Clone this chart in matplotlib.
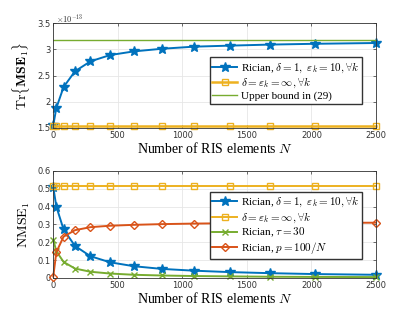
import matplotlib
matplotlib.use('Agg')
import matplotlib.pyplot as plt
from matplotlib.ticker import FuncFormatter

plt.rcParams['mathtext.fontset'] = 'cm'
plt.rcParams['font.family'] = 'DejaVu Sans'

N = [1, 25, 81, 169, 289, 441, 625, 841, 1089, 1369, 1681, 2025, 2500]

# top panel, Tr{MSE_1}
mse_rician = [1.55, 1.88, 2.28, 2.58, 2.77, 2.89, 2.96, 3.01, 3.05, 3.07, 3.09, 3.105, 3.12]
mse_los = [1.54] * 13
mse_bound = 3.18
scale = 1e-13

# bottom panel, NMSE_1
nmse_rician = [0.51, 0.40, 0.272, 0.18, 0.122, 0.088, 0.066, 0.051, 0.041, 0.033, 0.027, 0.022, 0.018]
nmse_los = [0.518] * 13
nmse_tau = [0.215, 0.15, 0.09, 0.053, 0.035, 0.025, 0.018, 0.014, 0.011, 0.009, 0.007, 0.006, 0.005]
nmse_p = [0.008, 0.145, 0.232, 0.268, 0.285, 0.293, 0.298, 0.302, 0.305, 0.307, 0.308, 0.309, 0.310]

blue = '#0072BD'
yellow = '#EDB120'
green = '#77AC30'
red = '#D95319'

serif = 'Liberation Serif'
leg_font = {'family': serif, 'size': 8}

fig = plt.figure(figsize=(4.15, 3.12), dpi=100)
ax1 = fig.add_axes([0.128, 0.590, 0.778, 0.336])
ax2 = fig.add_axes([0.128, 0.109, 0.778, 0.343])

ax1.plot(N, [v * scale for v in mse_rician], color=blue, lw=1.4, marker='*', ms=7, clip_on=False,
         label=r'Rician, $\delta=1,\ \varepsilon_k=10, \forall k$')
ax1.plot(N, [v * scale for v in mse_los], color=yellow, lw=1.8, marker='s', ms=4.5, mfc='none', clip_on=False,
         label=r'$\delta=\varepsilon_k=\infty, \forall k$')
ax1.plot([0, 2500], [mse_bound * scale] * 2, color=green, lw=1.0, label='Upper bound in (29)')
ax1.set_xlim(0, 2500)
ax1.set_ylim(1.5 * scale, 3.5 * scale)
ax1.set_yticks([v * scale for v in [1.5, 2, 2.5, 3, 3.5]])
ax1.yaxis.set_major_formatter(FuncFormatter(lambda v, p: f'{v / scale:g}'))
ax1.text(0.01, 1.01, r'$\times10^{-13}$', transform=ax1.transAxes, fontsize=6, color='#333333')
ax1.set_ylabel(r'$\mathrm{Tr}\{\mathbf{MSE}_1\}$', fontsize=10)
ax1.set_xlabel('Number of RIS elements $N$', family=serif, fontsize=10, labelpad=1)
ax1.legend(loc='center right', bbox_to_anchor=(0.975, 0.45), prop=leg_font, fancybox=False,
           edgecolor='#333333', framealpha=1, handlelength=2.2, borderpad=0.25, labelspacing=0.1,
           handletextpad=0.4)

ax2.plot(N, nmse_rician, color=blue, lw=1.4, marker='*', ms=7, clip_on=False,
         label=r'Rician, $\delta=1,\ \varepsilon_k=10, \forall k$')
ax2.plot(N, nmse_los, color=yellow, lw=1.4, marker='s', ms=4.5, mfc='none', clip_on=False,
         label=r'$\delta=\varepsilon_k=\infty, \forall k$')
ax2.plot(N, nmse_tau, color=green, lw=1.4, marker='x', ms=4, clip_on=False,
         label=r'Rician, $\tau=30$')
ax2.plot(N, nmse_p, color=red, lw=1.4, marker='D', ms=4.5, mfc='none', clip_on=False,
         label=r'Rician, $p=100/N$')
ax2.set_xlim(0, 2500)
ax2.set_ylim(0, 0.6)
ax2.set_yticks([0, 0.1, 0.2, 0.3, 0.4, 0.5, 0.6])
ax2.yaxis.set_major_formatter(FuncFormatter(lambda v, p: f'{v:g}'))
ax2.set_ylabel(r'$\mathrm{NMSE}_1$', fontsize=10)
ax2.set_xlabel('Number of RIS elements $N$', family=serif, fontsize=10, labelpad=1)
ax2.legend(loc='center right', bbox_to_anchor=(0.975, 0.49), prop=leg_font, fancybox=False,
           edgecolor='#333333', framealpha=1, handlelength=2.2, borderpad=0.25, labelspacing=0.1,
           handletextpad=0.4)

for ax in (ax1, ax2):
    ax.set_xticks([0, 500, 1000, 1500, 2000, 2500])
    ax.grid(True, color='#e6e6e6', lw=0.6)
    ax.set_axisbelow(True)
    ax.tick_params(labelsize=6, direction='in', length=2, width=0.5, colors='#333333',
                   top=True, right=True, pad=2)
    for s in ax.spines.values():
        s.set_linewidth(0.6)
        s.set_color('#333333')

fig.savefig('out.png', dpi=100)
